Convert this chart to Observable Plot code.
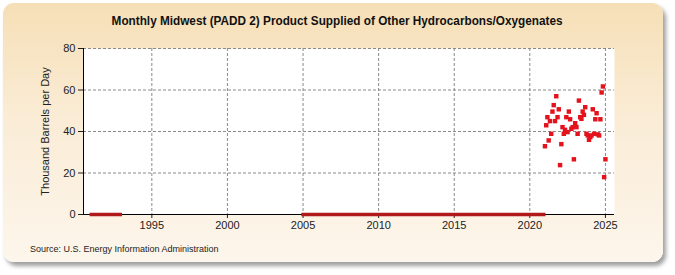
<!DOCTYPE html>
<html>
<head>
<meta charset="utf-8">
<script src="https://cdn.jsdelivr.net/npm/d3@7"></script>
<script src="https://cdn.jsdelivr.net/npm/@observablehq/plot@0.6"></script>
<style>
  html, body { margin: 0; padding: 0; width: 675px; height: 275px; overflow: hidden; background: #fff; font-family: "Liberation Sans", Arial, sans-serif; }
  #panel { position: absolute; left: 3px; top: 3px; width: 660px; height: 259px; border-radius: 11px;
    background: linear-gradient(to bottom, #f6dfb6 0%, #faecd6 45%, #fdf6ec 100%);
    box-shadow: 3px 4px 4px rgba(0,0,0,0.38); }
  #title { position: absolute; top: 13px; left: 0; width: 675px; text-align: center; font-weight: bold; font-size: 13px; color: #111; white-space: nowrap; }
  #title span { display: inline-block; transform-origin: center; }
  #source { position: absolute; left: 30px; top: 244px; font-size: 9px; color: #222; }
  #chart { position: absolute; left: 0; top: 0; }
</style>
</head>
<body>
<div id="panel"></div>
<div id="title"><span>Monthly Midwest (PADD 2) Product Supplied of Other Hydrocarbons/Oxygenates</span></div>
<div id="chart"></div>
<div id="source">Source: U.S. Energy Information Administration</div>
<script>
// Zero-valued stretches (drawn as a thick line on the axis)
const zeroRuns = [
  { start: "1991-01", end: "1992-12" },
  { start: "2005-01", end: "2020-12" }
];
// Monthly values Jan 2021 .. Jan 2025 (thousand barrels per day)
const recentStart = "2021-01";
const recentValues = [
  32.9, 43.0, 46.9, 35.7, 45.0, 38.9, 49.6, 52.7, 45.0, 57.0, 46.9, 50.7,
  23.8, 33.9, 42.1, 38.9, 40.8, 46.9, 39.7, 49.6, 45.9, 41.3, 42.1, 26.6,
  44.0, 42.1, 38.9, 54.9, 46.9, 46.1, 49.6, 48.0, 51.7, 38.9, 38.1, 36.0,
  37.3, 38.1, 50.7, 38.9, 45.9, 48.8, 38.6, 38.1, 45.9, 58.8, 61.7, 18.0,
  26.6
];
const yTicks = [0, 20, 40, 60, 80];
const xTickYears = [1995, 2000, 2005, 2010, 2015, 2020, 2025];

const parseMonth = s => { const [y, m] = s.split("-").map(Number); return new Date(y, m - 1, 1); };

const zeroSeries = zeroRuns.map((r, i) => {
  const pts = d3.timeMonth.range(parseMonth(r.start), d3.timeMonth.offset(parseMonth(r.end), 1))
    .map(date => ({ date, value: 0, run: i }));
  return pts;
}).flat();

const s0 = parseMonth(recentStart);
const recent = recentValues.map((v, i) => ({ date: d3.timeMonth.offset(s0, i), value: v }));

const yearFrac = f => { const y = Math.floor(f); const a = new Date(y, 0, 1), b = new Date(y + 1, 0, 1); return new Date(+a + (f - y) * (b - a)); };

const plot = Plot.plot({
  width: 675,
  height: 275,
  marginLeft: 83,
  marginRight: 61,
  marginTop: 48,
  marginBottom: 61,
  style: { background: "transparent", fontFamily: "Liberation Sans, Arial, sans-serif", fontSize: "11px", color: "#222" },
  x: { type: "time", domain: [yearFrac(1990.48), yearFrac(2025.6)] },
  y: { domain: [0, 80] },
  marks: [
    Plot.frame({ fill: "white", stroke: null }),
    Plot.gridY(yTicks.filter(d => d > 0), { stroke: "#8a8a8a", strokeOpacity: 1, strokeDasharray: "3,2", strokeWidth: 1 }),
    Plot.gridX(xTickYears.map(y => new Date(y, 0, 1)), { stroke: "#8a8a8a", strokeOpacity: 1, strokeDasharray: "3,2", strokeWidth: 1 }),
    Plot.axisY(yTicks, { tickSize: 5, tickPadding: 3, label: null, fontSize: 11 }),
    Plot.axisX(xTickYears.map(y => new Date(y, 0, 1)), { tickSize: 4, tickPadding: 3, tickFormat: d => String(d.getFullYear()), label: null, fontSize: 11 }),
    Plot.ruleY([0], { stroke: "black" }),
    Plot.ruleX([yearFrac(1990.48)], { stroke: "black" }),
    Plot.line(zeroSeries, { x: "date", y: "value", z: "run", stroke: "#b01a1a", strokeWidth: 3.5, strokeLinecap: "square" }),
    Plot.dot(recent, { x: "date", y: "value", symbol: "square", r: 2.5, fill: "#e3121c", stroke: null }),
    Plot.text(["Thousand Barrels per Day"], { frameAnchor: "left", textAnchor: "middle", dx: -38, rotate: -90, fontSize: 11, fill: "#222" })
  ]
});
document.getElementById("chart").appendChild(plot);

// fit title width to reference (~451px)
const span = document.querySelector("#title span");
const w = span.getBoundingClientRect().width;
span.style.transform = `scaleX(${451 / w})`;
</script>
</body>
</html>
